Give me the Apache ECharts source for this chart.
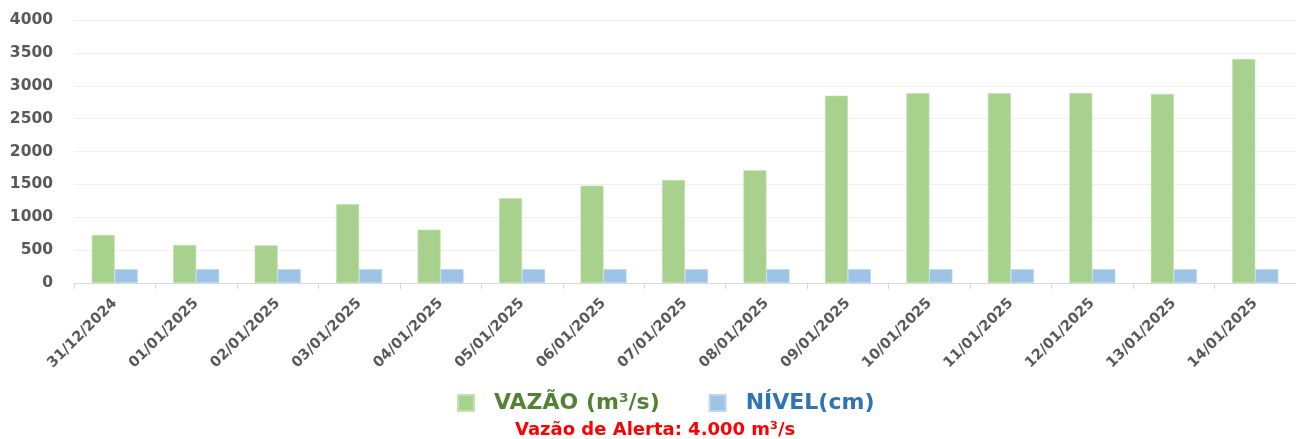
<!DOCTYPE html>
<html>
<head>
<meta charset="utf-8">
<script src="https://cdn.jsdelivr.net/npm/echarts@6/dist/echarts.min.js"></script>
<style>
  html, body { margin: 0; padding: 0; background: #fff; }
  #chart { width: 1296px; height: 439px; }
</style>
</head>
<body>
<div id="chart"></div>
<script>
// Daily river readings
const dates = ['31/12/2024', '01/01/2025', '02/01/2025', '03/01/2025', '04/01/2025',
  '05/01/2025', '06/01/2025', '07/01/2025', '08/01/2025', '09/01/2025',
  '10/01/2025', '11/01/2025', '12/01/2025', '13/01/2025', '14/01/2025'];
const vazao = [730, 578, 573, 1200, 810, 1290, 1480, 1567, 1714, 2848, 2888, 2885, 2890, 2875, 3407];
const nivel = [210, 210, 210, 210, 210, 210, 210, 210, 210, 210, 210, 210, 210, 210, 210];
const yTicks = { min: 0, max: 4000, interval: 500 };

const FONT = '"DejaVu Sans", sans-serif';
const chart = echarts.init(document.getElementById('chart'));
chart.setOption({
  animation: false,
  title: {
    text: 'Vazão de Alerta: 4.000 m³/s',
    left: 515,
    top: 421,
    padding: 0,
    textStyle: { color: '#FF0000', fontFamily: FONT, fontWeight: 'bold', fontSize: 18 }
  },
  legend: {
    top: 392,
    left: 457,
    padding: 0,
    itemWidth: 16,
    itemHeight: 16,
    itemGap: 49,
    icon: 'rect',
    textStyle: { fontFamily: FONT, fontWeight: 'bold', fontSize: 22, padding: [0, 0, 0, 15] },
    data: [
      { name: 'VAZÃO (m³/s)', textStyle: { color: '#548235' } },
      { name: 'NÍVEL(cm)', textStyle: { color: '#2E75B6' } }
    ]
  },
  grid: { left: 74, right: -8, top: 20, bottom: 156, containLabel: false },
  xAxis: {
    type: 'category',
    data: dates,
    axisLine: { lineStyle: { color: '#D9D9D9' } },
    axisTick: { show: true, length: 6, lineStyle: { color: '#D9D9D9' } },
    axisLabel: {
      rotate: 45,
      color: '#595959',
      fontFamily: FONT,
      fontWeight: 'bold',
      fontSize: 14.5,
      margin: 18
    }
  },
  yAxis: {
    type: 'value',
    min: yTicks.min,
    max: yTicks.max,
    interval: yTicks.interval,
    axisLine: { show: false },
    axisTick: { show: false },
    splitLine: { lineStyle: { color: '#EFEFEF' } },
    axisLabel: {
      color: '#595959',
      fontFamily: FONT,
      fontWeight: 'bold',
      fontSize: 15.5,
      margin: 21,
      formatter: (v) => String(v)
    }
  },
  series: [
    {
      name: 'VAZÃO (m³/s)',
      type: 'bar',
      data: vazao,
      barWidth: 23,
      barGap: '0%',
      itemStyle: { color: '#A9D18E', borderColor: '#C5E0B4', borderWidth: 0.6 }
    },
    {
      name: 'NÍVEL(cm)',
      type: 'bar',
      data: nivel,
      barWidth: 23,
      itemStyle: { color: '#9DC3E6', borderColor: '#BDD7EE', borderWidth: 0.6 }
    }
  ]
});
</script>
</body>
</html>
